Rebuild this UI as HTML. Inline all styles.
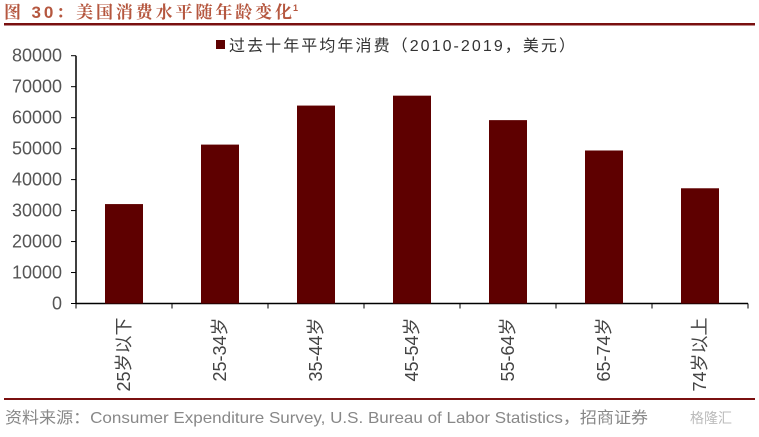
<!DOCTYPE html>
<html><head><meta charset="utf-8"><style>
body{margin:0;background:#fff;width:759px;height:432px;overflow:hidden;font-family:"Liberation Sans","Noto Sans CJK SC",sans-serif}
</style></head><body>
<svg width="759" height="432" xmlns="http://www.w3.org/2000/svg">
<text x="4" y="18" font-size="17" font-weight="bold" fill="#b5573f" font-family="Liberation Sans,Noto Serif CJK SC,serif" textLength="288" lengthAdjust="spacing">图 30：美国消费水平随年龄变化</text>
<text x="293" y="11" font-size="9" font-weight="bold" fill="#b5573f">1</text>
<rect x="4" y="23" width="751" height="2.5" fill="#7a1010"/>
<g>
<rect x="216" y="40" width="9" height="9" fill="#5e0000"/>
<text x="229" y="51" font-size="16" fill="#333" textLength="346" lengthAdjust="spacing">过去十年平均年消费（2010-2019，美元）</text>
</g>
<g id="plot"></g>
<rect x="4" y="398" width="751" height="2" fill="#7a1010"/>
<text x="5" y="423" font-size="16" fill="#888" textLength="643" lengthAdjust="spacingAndGlyphs">资料来源：Consumer Expenditure Survey, U.S. Bureau of Labor Statistics，招商证券</text>
<text x="690" y="423" font-size="14" fill="#bbb">格隆汇</text>
</svg>
<script>
const categories=["25岁以下","25-34岁","35-44岁","45-54岁","55-64岁","65-74岁","74岁以上"];
const values=[32100,51300,63900,67100,59200,49400,37200];
const yTicks=[0,10000,20000,30000,40000,50000,60000,70000,80000];
const NS="http://www.w3.org/2000/svg";
const g=document.getElementById('plot');
const x0=76,x1=748,y0=303.5,yTop=55.7,yMax=80000;
const bw=(x1-x0)/categories.length;
const ys=v=>y0-(v/yMax)*(y0-yTop);
function el(t,a){const e=document.createElementNS(NS,t);for(const k in a)e.setAttribute(k,a[k]);g.appendChild(e);return e;}
let ax=el('line',{x1:x0,y1:yTop,x2:x0,y2:y0,stroke:'#000','stroke-width':1.5});


let bx=el('line',{x1:x0,y1:y0,x2:x1,y2:y0,stroke:'#000','stroke-width':1.5});


yTicks.forEach(v=>{
 const y=ys(v);
 let t=el('line',{x1:x0-5,y1:y,x2:x0,y2:y,stroke:'#000'});
 
 
 let l=el('text',{x:x0-14,y:y+6,'font-size':18,fill:'#555','text-anchor':'end'});
 l.textContent=v;
 
 
});
for(let i=0;i<=categories.length;i++){
 let t=el('line',{x1:x0+i*bw,y1:y0,x2:x0+i*bw,y2:y0+5,stroke:'#000'});
 
 
}
categories.forEach((c,i)=>{
 const cx=x0+(i+0.5)*bw;
 let r=el('rect',{x:cx-19,y:ys(values[i]),width:38,height:y0-ys(values[i]),fill:'#5e0000'});
 
 
 let l=el('text',{x:0,y:0,'font-size':18,fill:'#444','text-anchor':'end',transform:`translate(${cx+6},${y0+14}) rotate(-90)`});
 l.textContent=c;
 
 
});
</script>
</body></html>
